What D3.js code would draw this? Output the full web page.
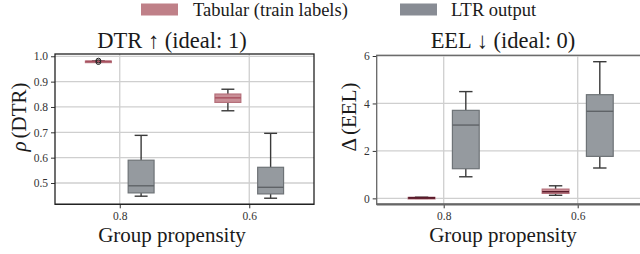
<!DOCTYPE html>
<html><head><meta charset="utf-8">
<script src="https://cdn.jsdelivr.net/npm/d3@7/dist/d3.min.js"></script>
<style>body{margin:0;background:#fff}svg{display:block}</style>
</head><body>
<svg id="c" width="640" height="254" style="font-family:'Liberation Serif','Times New Roman',serif"></svg>
<script>
const categories = ["0.8", "0.6"];
const seriesNames = ["Tabular (train labels)", "LTR output"];
// box stats: [whiskerLow, q1, median, q3, whiskerHigh]
const dtrTabular = [[0.978, 0.979, 0.980, 0.981, 0.982], [0.785, 0.818, 0.836, 0.851, 0.870]];
const dtrLTR = [[0.448, 0.461, 0.489, 0.590, 0.688], [0.440, 0.457, 0.483, 0.562, 0.696]];
const dtrTabularOutliers = [[0.983, 0.977], []];
const eelTabular = [[0.0, 0.01, 0.02, 0.04, 0.05], [0.13, 0.21, 0.28, 0.39, 0.53]];
const eelLTR = [[0.91, 1.25, 3.09, 3.71, 4.50], [1.28, 1.77, 3.67, 4.37, 5.76]];
const dtrTicks = [0.5, 0.6, 0.7, 0.8, 0.9, 1.0];
const eelTicks = [0, 2, 4, 6];

const FONT = "'Liberation Serif','Times New Roman',serif";
const svg = d3.select("#c");
const colors = {fill: ["#c98f97", "#959a9f"], edge: ["#b5707b", "#6e7377"], med: ["#a8505f", "#5f6367"], leg: ["#bf8088", "#888c94"]};

function txt(sel) { return sel.style("font-family", FONT).attr("fill", "#1a1a1a"); }

// legend
const leg = [{x: 141, tx: 193}, {x: 400, tx: 451}];
seriesNames.forEach((n, i) => {
  svg.append("rect").attr("x", leg[i].x).attr("y", 3.5).attr("width", 37).attr("height", 12).attr("fill", colors.leg[i]);
  txt(svg.append("text")).attr("x", leg[i].tx).attr("y", 16).attr("font-size", 18.5).text(n);
});

function panel(opt) {
  const g = svg.append("g");
  const x = d3.scaleLinear().domain([-0.5, 1.5]).range([opt.x0, opt.x1]);
  const y = d3.scaleLinear().domain(opt.ydom).range([opt.y0, opt.y1]);
  // grid
  g.selectAll(".gy").data(opt.ticks).join("line").attr("x1", opt.x0).attr("x2", opt.x1)
    .attr("y1", d => y(d)).attr("y2", d => y(d)).attr("stroke", "#cfcfcf").attr("stroke-width", 1.3);
  g.selectAll(".gx").data(categories).join("line").attr("x1", (d, i) => x(i)).attr("x2", (d, i) => x(i))
    .attr("y1", opt.y0).attr("y2", opt.y1).attr("stroke", "#cfcfcf").attr("stroke-width", 1.3);
  // boxes
  const bw = x(0.2) - x(0);
  [opt.tab, opt.ltr].forEach((ser, si) => {
    ser.forEach((s, ci) => {
      const cx = x(ci + (si === 0 ? -0.165 : 0.165));
      const cw = bw * 0.5;
      const bg = g.append("g");
      bg.append("line").attr("x1", cx).attr("x2", cx).attr("y1", y(s[0])).attr("y2", y(s[1])).attr("stroke", "#3a3a3a").attr("stroke-width", 1.4);
      bg.append("line").attr("x1", cx).attr("x2", cx).attr("y1", y(s[3])).attr("y2", y(s[4])).attr("stroke", "#3a3a3a").attr("stroke-width", 1.4);
      [s[0], s[4]].forEach(v => bg.append("line").attr("x1", cx - cw / 2).attr("x2", cx + cw / 2).attr("y1", y(v)).attr("y2", y(v)).attr("stroke", "#3a3a3a").attr("stroke-width", 1.4));
      bg.append("rect").attr("x", cx - bw / 2).attr("width", bw).attr("y", y(s[3])).attr("height", Math.max(y(s[1]) - y(s[3]), 1.5))
        .attr("fill", colors.fill[si]).attr("stroke", colors.edge[si]).attr("stroke-width", 1.2);
      bg.append("line").attr("x1", cx - bw / 2).attr("x2", cx + bw / 2).attr("y1", y(s[2])).attr("y2", y(s[2])).attr("stroke", si === 0 && opt.darkTab ? "#5a1a2a" : colors.med[si]).attr("stroke-width", si === 0 && opt.darkTab && ci === 0 ? 2 : 1.4);
      if (si === 0 && opt.outliers) {
        opt.outliers[ci].forEach(v => bg.append("circle").attr("cx", cx).attr("cy", y(v)).attr("r", 2.4).attr("fill", "none").attr("stroke", "#222").attr("stroke-width", 1));
      }
    });
  });
  // axes
  const ya = g.append("g").attr("transform", `translate(${opt.x0},0)`).call(d3.axisLeft(y).tickValues(opt.ticks).tickSize(4).tickPadding(3).tickFormat(opt.fmt));
  const xa = g.append("g").attr("transform", `translate(0,${opt.y0})`).call(d3.axisBottom(x).tickValues([0, 1]).tickSize(4).tickPadding(4).tickFormat((d, i) => categories[i]));
  [ya, xa].forEach(a => { a.attr("font-family", null); a.select(".domain").remove(); txt(a.selectAll("text")).attr("font-size", 11.5).attr("fill", "#333"); a.selectAll("line").attr("stroke", "#333"); });
  // frame
  g.append("rect").attr("x", opt.x0).attr("y", opt.y1).attr("width", opt.x1 - opt.x0).attr("height", opt.y0 - opt.y1)
    .attr("fill", "none").attr("stroke", opt.frame).attr("stroke-width", 1.3);
  g.append("line").attr("x1", opt.x0).attr("x2", opt.x1).attr("y1", opt.y0).attr("y2", opt.y0).attr("stroke", opt.frame).attr("stroke-width", opt.bottomW);
  // labels
  txt(svg.append("text")).attr("x", opt.tcx).attr("y", 48).attr("text-anchor", "middle").attr("font-size", 22.5).text(opt.title);
  txt(svg.append("text")).attr("x", opt.tcx).attr("y", 242).attr("text-anchor", "middle").attr("font-size", 21).text("Group propensity");
  const yl = txt(svg.append("text")).attr("transform", `translate(${opt.ylx},${opt.yly}) rotate(-90)`).attr("text-anchor", "middle").attr("font-size", 21);
  yl.append("tspan").style("font-style", opt.italic ? "italic" : "normal").text(opt.ylabel[0]);
  yl.append("tspan").attr("dx", 3).text(opt.ylabel[1]);
}

panel({x0: 55, x1: 314, y0: 204.3, y1: 54, ydom: [0.416, 1.009], ticks: dtrTicks, fmt: d3.format(".1f"),
  tab: dtrTabular, ltr: dtrLTR, outliers: dtrTabularOutliers, frame: "#222", bottomW: 1.3, italic: true,
  title: "DTR ↑ (ideal: 1)", tcx: 172, ylabel: ["ρ", "(DTR)"], ylx: 26, yly: 117});
panel({x0: 376.7, x1: 644.7, y0: 204.3, y1: 55.3, ydom: [-0.25, 6.03], ticks: eelTicks, fmt: d3.format("d"),
  tab: eelTabular, ltr: eelLTR, frame: "#666", bottomW: 2.2, darkTab: true, italic: false,
  title: "EEL ↓ (ideal: 0)", tcx: 503, ylabel: ["Δ", "(EEL)"], ylx: 356, yly: 117});
</script>
</body></html>
